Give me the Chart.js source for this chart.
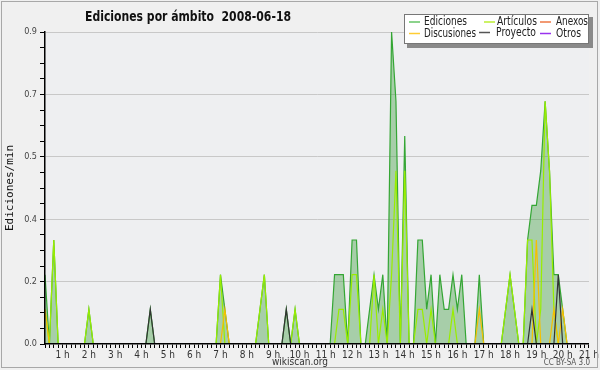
<!DOCTYPE html>
<html>
<head>
<meta charset="utf-8">
<script src="https://cdn.jsdelivr.net/npm/chart.js@4"></script>
<style>
  html, body { margin: 0; padding: 0; background: #f0f0f0; }
  canvas { display: block; }
</style>
</head>
<body>
<canvas id="chart" width="600" height="370"></canvas>
<script>
// ediciones/min en tramos de 10 min; el primer tramo es el 2 (0:20), el ultimo las 21:00
var firstSlot = 2;

// una fila por hora (la primera empieza en 0:20)
var ediciones = [
  0.2, 0, 0.3, 0,
  0, 0, 0, 0, 0, 0,
  0.1, 0, 0, 0, 0, 0,
  0, 0, 0, 0, 0, 0,
  0, 0, 0.1, 0, 0, 0,
  0, 0, 0, 0, 0, 0,
  0, 0, 0, 0, 0, 0,
  0.2, 0.1, 0, 0, 0, 0,
  0, 0, 0, 0.1, 0.2, 0,
  0, 0, 0, 0.1, 0, 0.1,
  0, 0, 0, 0, 0, 0,
  0, 0, 0.2, 0.2, 0.2, 0,
  0.3, 0.3, 0, 0, 0.1, 0.2,
  0.1, 0.2, 0, 0.9, 0.7, 0,
  0.6, 0, 0, 0.3, 0.3, 0.1,
  0.2, 0, 0.2, 0.1, 0.1, 0.2,
  0.1, 0.2, 0, 0, 0, 0.2,
  0, 0, 0, 0, 0, 0.1,
  0.2, 0.1, 0, 0, 0.3, 0.4,
  0.4, 0.5, 0.7, 0.5, 0.2, 0.2,
  0.1, 0, 0, 0, 0, 0,
  0
];
var articulos = [
  0.1, 0, 0.3, 0,
  0, 0, 0, 0, 0, 0,
  0.1, 0, 0, 0, 0, 0,
  0, 0, 0, 0, 0, 0,
  0, 0, 0, 0, 0, 0,
  0, 0, 0, 0, 0, 0,
  0, 0, 0, 0, 0, 0,
  0.2, 0, 0, 0, 0, 0,
  0, 0, 0, 0.1, 0.2, 0,
  0, 0, 0, 0, 0, 0.1,
  0, 0, 0, 0, 0, 0,
  0, 0, 0, 0.1, 0.1, 0,
  0.2, 0.2, 0, 0, 0, 0.2,
  0, 0.1, 0, 0.2, 0.5, 0,
  0.5, 0, 0, 0.1, 0.1, 0,
  0.1, 0, 0, 0, 0, 0.1,
  0, 0, 0, 0, 0, 0,
  0, 0, 0, 0, 0, 0.1,
  0.2, 0.1, 0, 0, 0.3, 0.3,
  0, 0.1, 0.7, 0.5, 0.1, 0,
  0, 0, 0, 0, 0, 0,
  0
];
var anexos = [
  0, 0, 0, 0,
  0, 0, 0, 0, 0, 0,  0, 0, 0, 0, 0, 0,  0, 0, 0, 0, 0, 0,  0, 0, 0, 0, 0, 0,
  0, 0, 0, 0, 0, 0,  0, 0, 0, 0, 0, 0,  0, 0, 0, 0, 0, 0,  0, 0, 0, 0, 0, 0,
  0, 0, 0, 0, 0, 0,  0, 0, 0, 0, 0, 0,  0, 0, 0, 0, 0, 0,  0, 0, 0, 0, 0, 0,
  0, 0, 0, 0, 0, 0,  0, 0, 0, 0, 0, 0,  0, 0, 0, 0, 0, 0,  0, 0, 0, 0, 0, 0,
  0, 0, 0, 0, 0, 0,  0, 0, 0, 0, 0, 0,  0, 0, 0, 0, 0, 0,  0, 0, 0, 0, 0, 0,
  0
];
var discusiones = [
  0.1, 0, 0, 0,
  0, 0, 0, 0, 0, 0,
  0, 0, 0, 0, 0, 0,
  0, 0, 0, 0, 0, 0,
  0, 0, 0, 0, 0, 0,
  0, 0, 0, 0, 0, 0,
  0, 0, 0, 0, 0, 0,
  0, 0.1, 0, 0, 0, 0,
  0, 0, 0, 0, 0, 0,
  0, 0, 0, 0, 0, 0,
  0, 0, 0, 0, 0, 0,
  0, 0, 0, 0, 0, 0,
  0, 0, 0, 0, 0, 0,
  0, 0, 0, 0, 0, 0,
  0, 0, 0, 0, 0, 0,
  0, 0, 0, 0, 0, 0,
  0, 0, 0, 0, 0, 0.1,
  0, 0, 0, 0, 0, 0,
  0, 0, 0, 0, 0, 0,
  0.3, 0, 0, 0, 0.1, 0,
  0.1, 0, 0, 0, 0, 0,
  0
];
var proyecto = [
  0, 0, 0, 0,
  0, 0, 0, 0, 0, 0,
  0, 0, 0, 0, 0, 0,
  0, 0, 0, 0, 0, 0,
  0, 0, 0.1, 0, 0, 0,
  0, 0, 0, 0, 0, 0,
  0, 0, 0, 0, 0, 0,
  0, 0, 0, 0, 0, 0,
  0, 0, 0, 0, 0, 0,
  0, 0, 0, 0.1, 0, 0,
  0, 0, 0, 0, 0, 0,
  0, 0, 0, 0, 0, 0,
  0, 0, 0, 0, 0, 0,
  0, 0, 0, 0, 0, 0,
  0, 0, 0, 0, 0, 0,
  0, 0, 0, 0, 0, 0,
  0, 0, 0, 0, 0, 0,
  0, 0, 0, 0, 0, 0,
  0, 0, 0, 0, 0, 0.1,
  0, 0, 0, 0, 0, 0.2,
  0, 0, 0, 0, 0, 0,
  0
];
var otros = [
  0, 0, 0, 0,
  0, 0, 0, 0, 0, 0,  0, 0, 0, 0, 0, 0,  0, 0, 0, 0, 0, 0,  0, 0, 0, 0, 0, 0,
  0, 0, 0, 0, 0, 0,  0, 0, 0, 0, 0, 0,  0, 0, 0, 0, 0, 0,  0, 0, 0, 0, 0, 0,
  0, 0, 0, 0, 0, 0,  0, 0, 0, 0, 0, 0,  0, 0, 0, 0, 0, 0,  0, 0, 0, 0, 0, 0,
  0, 0, 0, 0, 0, 0,  0, 0, 0, 0, 0, 0,  0, 0, 0, 0, 0, 0,  0, 0, 0, 0, 0, 0,
  0, 0, 0, 0, 0, 0,  0, 0, 0, 0, 0, 0,  0, 0, 0, 0, 0, 0,  0, 0, 0, 0, 0, 0,
  0
];

var etiquetasHora = ['1 h','2 h','3 h','4 h','5 h','6 h','7 h','8 h','9 h','10 h','11 h',
  '12 h','13 h','14 h','15 h','16 h','17 h','18 h','19 h','20 h','21 h'];
var etiquetasY = ['0.0', '0.2', '0.4', '0.5', '0.7', '0.9'];
var yMax = 0.9;

var narrow = '"Liberation Sans Narrow", "DejaVu Sans Condensed", "Liberation Sans", sans-serif';
var lastSlot = firstSlot + ediciones.length - 1;

function pts(serie) {
  return serie.map(function (v, i) { return { x: (firstSlot + i) / 6, y: v }; });
}

function linea(label, serie, color, order) {
  return {
    label: label, data: pts(serie), borderColor: color, borderWidth: 1.2,
    pointRadius: 0, tension: 0, fill: false, order: order
  };
}

var ed = linea('Ediciones', ediciones, '#34a634', 10);
ed.fill = 'origin';
ed.backgroundColor = 'rgba(70,160,70,0.42)';

var decor = {
  id: 'decor',
  beforeDraw: function (chart) {
    var c = chart.ctx, a = chart.chartArea;
    c.save();
    c.fillStyle = '#f0f0f0';
    c.fillRect(0, 0, chart.width, chart.height);
    c.fillStyle = '#eeeff1';
    c.fillRect(a.left, a.top, a.right - a.left, a.bottom - a.top);
    c.restore();
  },
  afterDraw: function (chart) {
    var c = chart.ctx;
    c.save();
    c.strokeStyle = '#a8a8a8';
    c.lineWidth = 1;
    c.strokeRect(1.5, 1.5, 596, 366);

    // titulo
    c.fillStyle = '#111';
    c.font = 'bold 14px ' + narrow;
    c.textBaseline = 'alphabetic';
    c.textAlign = 'left';
    c.fillText('Ediciones por ámbito  2008-06-18', 85, 21, 206);

    // leyenda
    c.fillStyle = '#8a8a8a';
    c.fillRect(407, 17, 186, 31);
    c.fillStyle = '#ffffff';
    c.fillRect(404, 14, 185, 30);
    c.strokeStyle = '#777';
    c.strokeRect(404.5, 14.5, 184, 29);
    var items = [
      ['Ediciones', '#66c466', 409, 424, 22, 43],
      ['Artículos', '#bbee33', 484, 497, 22, 40],
      ['Anexos', '#ee7744', 540, 556, 22, 32],
      ['Discusiones', '#ffcc33', 409, 424, 33.5, 52],
      ['Proyecto', '#555555', 479, 496, 32.5, 40],
      ['Otros', '#9933ee', 540, 556, 33.5, 25]
    ];
    c.font = '12px ' + narrow;
    c.textBaseline = 'middle';
    items.forEach(function (it) {
      c.strokeStyle = it[1];
      c.lineWidth = 1.5;
      c.beginPath();
      c.moveTo(it[2], it[4]);
      c.lineTo(it[2] + 11, it[4]);
      c.stroke();
      c.fillStyle = '#222';
      c.fillText(it[0], it[3], it[4], it[5]);
    });

    // pie
    c.fillStyle = '#333';
    c.textBaseline = 'alphabetic';
    c.textAlign = 'center';
    c.font = '10px ' + narrow;
    c.fillText('wikiscan.org', 300, 365);
    c.textAlign = 'right';
    c.font = '8px ' + narrow;
    c.fillStyle = '#555';
    c.fillText('CC BY-SA 3.0', 590, 365);
    c.restore();
  }
};

new Chart(document.getElementById('chart'), {
  type: 'line',
  data: {
    datasets: [
      linea('Proyecto', proyecto, '#333333', 1),
      linea('Otros', otros, '#9933ee', 2),
      linea('Discusiones', discusiones, '#f5c000', 3),
      linea('Anexos', anexos, '#ee7744', 4),
      linea('Artículos', articulos, '#99ee00', 5),
      ed
    ]
  },
  options: {
    responsive: false,
    animation: false,
    devicePixelRatio: 1,
    layout: { padding: { top: 32, right: 11, left: 0, bottom: 0 } },
    plugins: { legend: { display: false }, tooltip: { enabled: false } },
    scales: {
      x: {
        type: 'linear',
        min: firstSlot / 6,
        max: lastSlot / 6,
        afterBuildTicks: function (scale) {
          var t = [];
          for (var k = firstSlot; k <= lastSlot; k++) t.push({ value: k / 6 });
          scale.ticks = t;
        },
        afterFit: function (scale) { scale.height = 26; },
        grid: { color: 'rgba(0,0,0,0)', drawOnChartArea: false, tickColor: '#000', tickLength: 4, lineWidth: 1 },
        border: { color: '#000', width: 1.5, z: 1 },
        ticks: {
          autoSkip: false, maxRotation: 0, minRotation: 0, padding: 1,
          color: '#333', font: { family: narrow, size: 10 },
          callback: function (v) {
            var k = Math.round(v * 6);
            return k % 6 === 0 ? etiquetasHora[k / 6 - 1] : '';
          }
        }
      },
      y: {
        min: 0,
        max: yMax,
        afterBuildTicks: function (scale) {
          var t = [];
          for (var i = 0; i <= 20; i++) t.push({ value: i * yMax / 20 });
          scale.ticks = t;
        },
        afterFit: function (scale) { scale.width = 45; },
        grid: {
          color: function (ctx) { return ctx.index % 4 === 0 && ctx.index > 0 ? '#c8c8c8' : 'rgba(0,0,0,0)'; },
          tickColor: '#000', tickLength: 5, lineWidth: 1
        },
        border: { color: '#000', width: 1.5, z: 1 },
        title: { display: true, text: 'Ediciones/min', color: '#111', padding: { top: 4, bottom: 0 }, font: { family: '"DejaVu Sans Mono", monospace', size: 11 } },
        ticks: {
          autoSkip: false, padding: 3, color: '#444', font: { family: narrow, size: 9 },
          callback: function (v, i) { return i % 4 === 0 ? etiquetasY[i / 4] : ''; }
        }
      }
    }
  },
  plugins: [decor]
});
</script>
</body>
</html>
